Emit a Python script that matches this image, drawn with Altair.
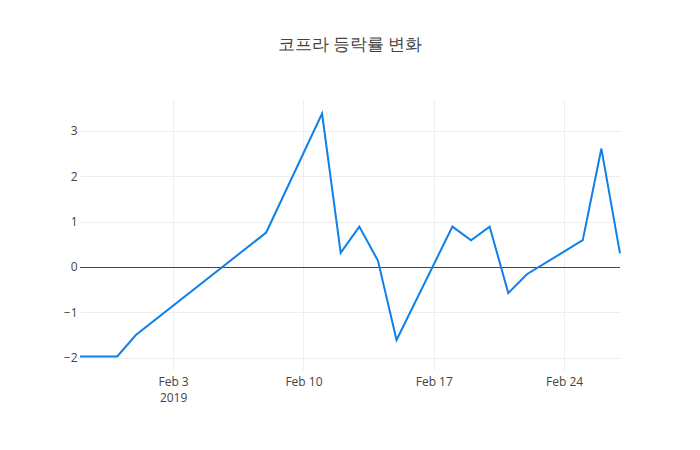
import pandas as pd
import altair as alt

dates = ['2019-01-29', '2019-01-31', '2019-02-01', '2019-02-08', '2019-02-11',
         '2019-02-12', '2019-02-13', '2019-02-14', '2019-02-15', '2019-02-18',
         '2019-02-19', '2019-02-20', '2019-02-21', '2019-02-22', '2019-02-25',
         '2019-02-26', '2019-02-27']
rates = [-1.97, -1.97, -1.50, 0.76, 3.38, 0.31, 0.89, 0.14, -1.61, 0.89,
         0.59, 0.89, -0.575, -0.16, 0.59, 2.61, 0.30]
tick_days = [3, 10, 17, 24]
y_ticks = [-2, -1, 0, 1, 2, 3]

df = pd.DataFrame({'date': dates, 'rate': rates})

font = 'Open Sans'
grey = '#444'

x_axis = alt.Axis(
    values=[alt.DateTime(year=2019, month=2, date=d, utc=True) for d in tick_days],
    labelExpr="utcFormat(datum.value, '%d') == '03' ? [utcFormat(datum.value, '%b %-d'), '2019'] : utcFormat(datum.value, '%b %-d')",
    title=None, domain=False, ticks=False, gridColor='#eee',
    labelFont=font, labelFontSize=12, labelColor=grey, labelPadding=6,
    labelLineHeight=16,
)
y_axis = alt.Axis(
    values=y_ticks, format='d', labelExpr="replace(datum.label, '-', '\u2212')",
    title=None, domain=False, ticks=False, gridColor='#eee',
    labelFont=font, labelFontSize=12, labelColor=grey, labelPadding=3,
)

line = alt.Chart(df).mark_line(color='#0f7fe9', strokeWidth=2).encode(
    x=alt.X('date:T', axis=x_axis,
            scale=alt.Scale(type='utc', domain=[alt.DateTime(year=2019, month=1, date=29, utc=True),
                                                alt.DateTime(year=2019, month=2, date=27, utc=True)])),
    y=alt.Y('rate:Q', axis=y_axis, scale=alt.Scale(domain=[-2.27, 3.68], nice=False, zero=False)),
)

# zero line, nudged half a pixel so it stays crisp
zero = alt.Chart(pd.DataFrame({'z': [0]})).mark_rule(color=grey, strokeWidth=1, yOffset=0.5).encode(
    y=alt.Y('z:Q')
)

chart = alt.layer(zero, line).properties(
    width=540, height=270,
    title=alt.Title('코프라 등락률 변화', font=font, fontSize=17, color=grey,
                    fontWeight='normal', offset=46, anchor='middle'),
    autosize=alt.AutoSizeParams(type='none'),
    padding={'left': 72, 'top': 92, 'right': 72, 'bottom': 72},
).configure_view(stroke=None)

chart.save("out.html", embed_options={"renderer": "svg", "actions": False})
